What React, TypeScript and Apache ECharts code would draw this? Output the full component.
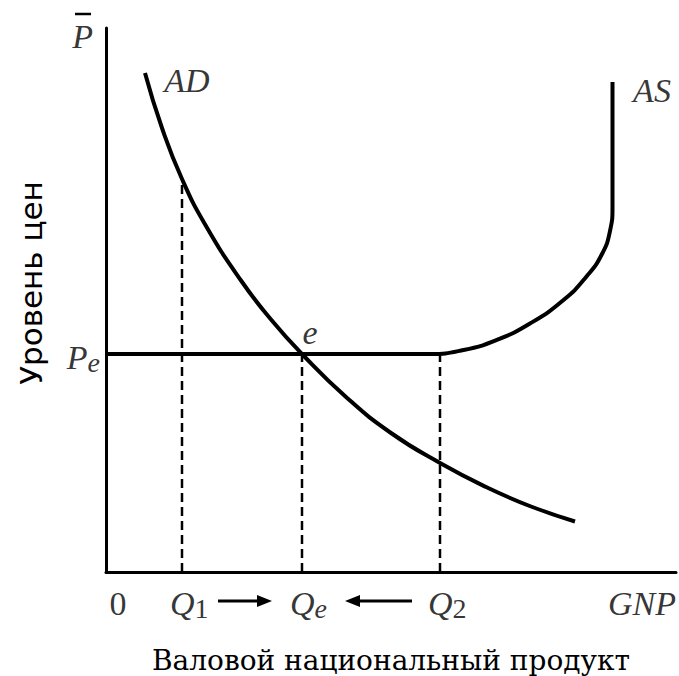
import React, { useEffect, useRef } from 'react';
import * as echarts from 'echarts';

// Aggregate demand curve AD (GNP, price level)
const adX = [7.8, 11.2, 15.2, 20, 27, 33, 39.2, 48, 57, 66.8, 76, 85, 93.8];
const adY = [99.8, 88.8, 78.6, 69.2, 58.3, 50.5, 43.6, 35.0, 27.8, 21.8, 17.0, 13.1, 10.1];

// Aggregate supply curve AS
const asX = [0, 40, 64.8, 71.5, 78.1, 84.8, 91.5, 96.1, 99.2, 100.8, 101.3, 101.3, 101.3];
const asY = [43.6, 43.6, 43.6, 44.4, 46.4, 49.7, 54.4, 59.1, 63.6, 68.2, 73.0, 80, 98];

// Equilibrium price level
const Pe = 43.6;

// Output levels and heights of dashed guides
const qValues = [15.2, 39.2, 66.8];
const qTops = [78.6, Pe, Pe];

// Tick labels on the GNP axis
const tickNames = ['0', 'Q1', 'Qe', 'Q2', 'GNP'];
const tickValues = [2.4, 15.2, 39.2, 66.8, 107.2];

const SERIF = 'Liberation Serif, Times New Roman, serif';
const TEXT_SERIF = 'DejaVu Serif, serif';

const rich = {
  q: { fontFamily: SERIF, fontStyle: 'italic' as const, fontSize: 34, color: '#000', lineHeight: 38 },
  n: { fontFamily: SERIF, fontSize: 34, color: '#000', lineHeight: 38 },
  sd: { fontFamily: SERIF, fontSize: 28, color: '#000', lineHeight: 24, verticalAlign: 'bottom' as const },
  se: { fontFamily: SERIF, fontStyle: 'italic' as const, fontSize: 28, color: '#000', lineHeight: 24, verticalAlign: 'bottom' as const },
};

function tickRich(name: string): string {
  if (name.length === 2 && name[0] === 'Q') {
    const s = name[1];
    return /[0-9]/.test(s) ? `{q|Q}{sd|${s}}` : `{q|Q}{se|${s}}`;
  }
  if (name === '0') return `{n|0}`;
  return `{q|${name}}`;
}

export default function App() {
  const ref = useRef<HTMLDivElement>(null);
  useEffect(() => {
    const chart = echarts.init(ref.current!, null, { renderer: 'svg' });
    const lineStyle = { color: '#000', width: 4 };
    const dashed = qValues.map((q, i) => ({
      type: 'line',
      data: [[q, 0], [q, qTops[i]]],
      showSymbol: false,
      symbol: 'none',
      lineStyle: { color: '#000', width: 2.5, type: [9, 5] },
      z: 1,
    }));
    const tickData = tickValues.map((v, i) => {
      const name = tickNames[i];
      const isQ = name[0] === 'Q';
      return {
        value: [v, 0, name],
        label: {
          align: isQ ? 'left' : 'center',
          offset: [isQ ? -12 : 0, 31],
        },
      };
    });
    chart.setOption({
      animation: false,
      grid: { left: 106, right: 3, top: 28, bottom: 104 },
      xAxis: {
        type: 'value', min: 0, max: 114,
        axisLine: { show: true, lineStyle: { color: '#000', width: 3 } },
        axisTick: { show: false }, axisLabel: { show: false }, splitLine: { show: false },
      },
      yAxis: {
        type: 'value', min: 0, max: 108.8,
        axisLine: { show: true, lineStyle: { color: '#000', width: 3 } },
        axisTick: { show: false }, axisLabel: { show: false }, splitLine: { show: false },
      },
      series: [
        ...dashed,
        {
          type: 'line', name: 'AD', smooth: 0.5, showSymbol: false, symbol: 'none',
          data: adX.map((x, i) => [x, adY[i]]), lineStyle, z: 3,
        },
        {
          type: 'line', name: 'AS', smooth: 0.5, showSymbol: false, symbol: 'none',
          data: asX.map((x, i) => [x, asY[i]]), lineStyle, z: 3,
        },
        {
          type: 'scatter', symbolSize: 0, clip: false, silent: true,
          data: tickData,
          label: {
            show: true, position: 'inside', verticalAlign: 'middle',
            formatter: (p: any) => tickRich(p.data.value[2]),
            rich,
          },
        },
        {
          type: 'scatter', symbolSize: 0, clip: false, silent: true,
          data: [
            { value: [0, Pe], label: { formatter: '{q|P}{se|e}', align: 'right', offset: [-6, 3] } },
            { value: [0, 108.8], label: { formatter: '{q|P}', align: 'right', offset: [-13, 8] } },
            { value: [16.2, 98.4], label: { formatter: '{q|AD}', align: 'center', offset: [0, 0] } },
            { value: [109.2, 96.4], label: { formatter: '{q|AS}', align: 'center', offset: [0, 0] } },
            { value: [40.8, 48], label: { formatter: '{q|e}', align: 'center', offset: [0, 0] } },
          ],
          label: { show: true, position: 'inside', verticalAlign: 'middle', rich },
        },
      ],
      graphic: [
        { type: 'line', shape: { x1: 75, y1: 14, x2: 91, y2: 14 }, style: { stroke: '#000', lineWidth: 2.5 } },
        { type: 'line', shape: { x1: 218, y1: 601, x2: 262, y2: 601 }, style: { stroke: '#000', lineWidth: 3 } },
        { type: 'polygon', shape: { points: [[272, 601], [257, 595], [257, 607]] }, style: { fill: '#000' } },
        { type: 'line', shape: { x1: 355, y1: 601, x2: 412, y2: 601 }, style: { stroke: '#000', lineWidth: 3 } },
        { type: 'polygon', shape: { points: [[345, 601], [360, 595], [360, 607]] }, style: { fill: '#000' } },
        {
          type: 'text', x: 391, y: 660,
          style: { text: 'Валовой национальный продукт', font: `28px ${TEXT_SERIF}`, fill: '#000', textAlign: 'center', textVerticalAlign: 'middle' },
        },
        {
          type: 'text', x: 31, y: 283, rotation: Math.PI / 2,
          style: { text: 'Уровень цен', font: `31px DejaVu Sans, sans-serif`, fill: '#000', textAlign: 'center', textVerticalAlign: 'middle' },
        },
      ],
    });
    return () => chart.dispose();
  }, []);
  return <div ref={ref} style={{ position: 'fixed', left: 0, top: 0, width: 679, height: 676, background: '#fff' }} />;
}
